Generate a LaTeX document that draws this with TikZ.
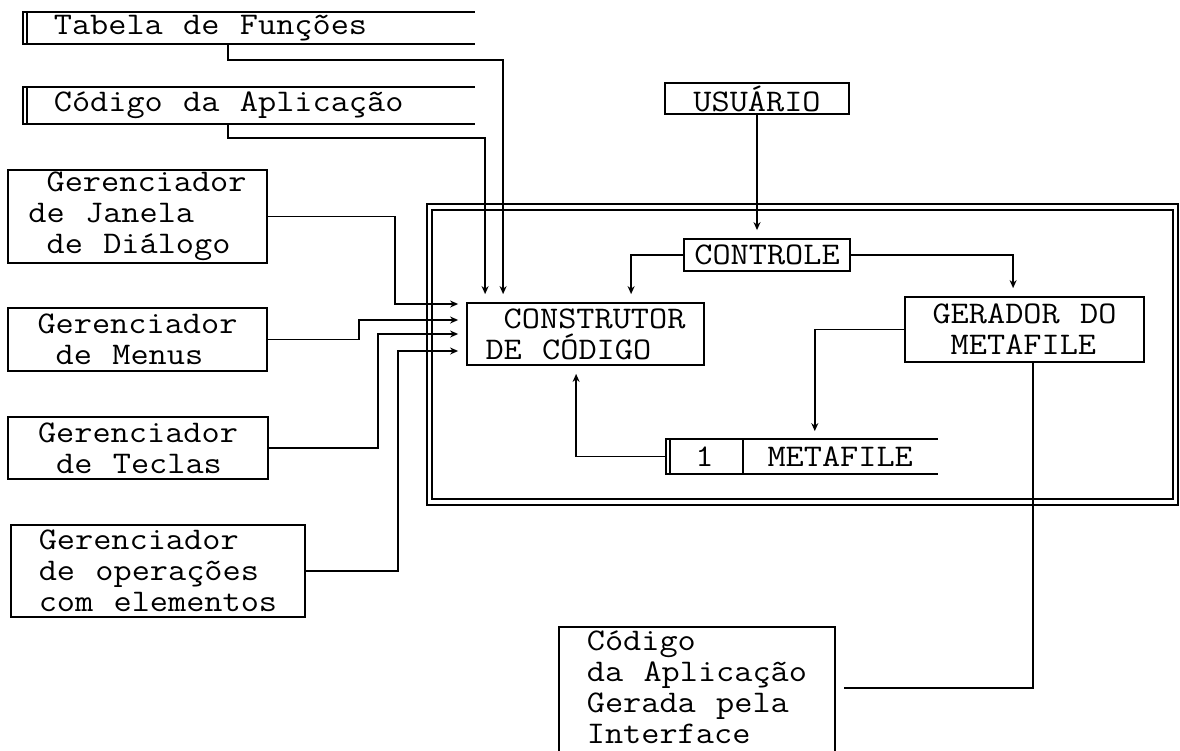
\documentclass[tikz,border=0pt]{standalone}
\usepackage{fontspec}
\setmonofont[FakeStretch=1.12, WordSpace={1.12,0,0}]{Latin Modern Mono}
\usetikzlibrary{positioning, arrows.meta}
\newcommand{\tsp}{\hphantom{x}}
% open-ended data store: top, bottom and a double bar on the left
\newcommand{\storelines}[2]{%
  \draw (#2.north east) -- (#1.north west) -- (#1.south west) -- (#2.south east);
  \draw ([xshift=4pt]#1.north west) -- ([xshift=4pt]#1.south west);}

\begin{document}
\begin{tikzpicture}[
    x=1pt, y=-1pt, line width=1.8pt,
    every node/.style={font=\ttfamily\fontsize{31.5}{31}\selectfont},
    bloco/.style={draw, inner sep=0pt, align=flush left},
    arquivo/.style={inner sep=0pt, anchor=west},
    seta/.style={-{Stealth[length=8pt,width=7pt]}, shorten >=8pt},
  ]
  \useasboundingbox (0,0) rectangle (1180,750);

  % data stores
  \node[arquivo, text width=390pt, inner xsep=30pt, align=flush left, minimum height=30pt] (tabela) at (23,28) {Tabela de Funções};
  \node[arquivo, text width=390pt, inner xsep=30pt, align=flush left, minimum height=35pt] (codigo) at (23,105.5) {Código da Aplicação};
  \storelines{tabela}{tabela}
  \storelines{codigo}{codigo}

  % managers on the left
  \node[bloco, minimum width=259pt, minimum height=93pt] (janela) at (137.5,216.5) {\tsp Gerenciador\\de Janela\\\tsp de Diálogo};
  \node[bloco, minimum width=259pt, minimum height=63pt] (menus) at (137.5,339.5) {Gerenciador\\\tsp de Menus};
  \node[bloco, minimum width=260pt, minimum height=62pt] (teclas) at (138,448) {Gerenciador\\\tsp de Teclas};
  \node[bloco, minimum width=294pt, minimum height=92pt] (oper) at (158,571) {Gerenciador\\de operações\\com elementos};

  % system frame
  \draw (427,204) rectangle (1178,505);
  \draw (432,210) rectangle (1173,499);

  \node[bloco, minimum width=184pt, minimum height=31pt] (usuario) at (757,98.5) {USUÁRIO};
  \node[bloco, minimum width=166pt, minimum height=32pt] (controle) at (767,255) {CONTROLE};
  \node[bloco, minimum width=237pt, minimum height=62pt] (construtor) at (585.5,334) {\tsp CONSTRUTOR\\DE CÓDIGO};
  \node[bloco, minimum width=239pt, minimum height=65pt] (gerador) at (1024.5,329.5) {GERADOR DO\\\tsp METAFILE};

  \node[arquivo, minimum width=75pt, minimum height=33pt] (mfnum) at (666,456.5) {1};
  \node[inner sep=0pt, minimum width=193pt, minimum height=33pt, right=0pt of mfnum] (metafile) {METAFILE};
  \storelines{mfnum}{metafile}
  \draw (mfnum.north east) -- (mfnum.south east);

  % generated code (box runs off the page)
  \node[inner sep=0pt, inner ysep=3pt, align=flush left, anchor=north, minimum width=274pt] (aplic) at (697,627) {Código\\da Aplicação\\Gerada pela\\Interface};
  \draw ([yshift=-20pt]aplic.south west) -- (aplic.north west) -- (aplic.north east) -- ([yshift=-20pt]aplic.south east);

  % connectors
  \draw[seta] ([xshift=205pt]tabela.south west) -- ++(0,16) -| ([xshift=37pt]construtor.north west);
  \draw[seta] ([xshift=205pt]codigo.south west) -- ++(0,14) -| ([xshift=19pt]construtor.north west);
  \draw[seta] (usuario.south) -- (usuario.south |- controle.north);
  \draw[seta] (controle.west) -| ([xshift=165pt]construtor.north west);
  \draw[seta] (controle.east) -| ([xshift=109pt]gerador.north west);
  \draw[seta] (gerador.west) -| ([xshift=72pt]metafile.north west);
  \draw[seta] (mfnum.west) -| ([xshift=110pt]construtor.south west);
  \draw[shorten >=9pt] ([xshift=129pt]gerador.south west) |- ([yshift=-61pt]aplic.north east);

  \draw[seta] (janela.east) -- ++(127,0) |- ([yshift=30pt]construtor.west);
  \draw[seta] (menus.east) -- ++(91,0) |- ([yshift=14pt]construtor.west);
  \draw[seta] (teclas.east) -- ++(109,0) |- (construtor.west);
  \draw[seta] (oper.east) -- ++(92,0) |- ([yshift=-17pt]construtor.west);
\end{tikzpicture}
\end{document}
